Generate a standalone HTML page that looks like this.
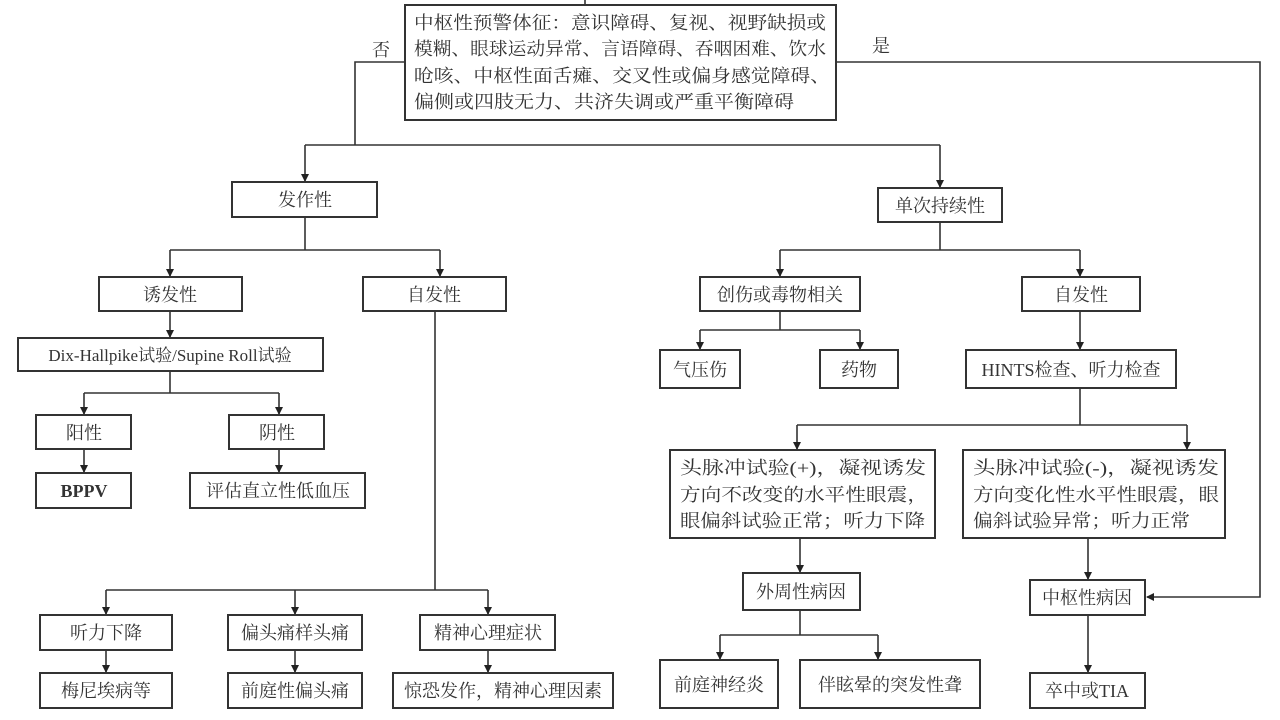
<!DOCTYPE html>
<html><head><meta charset="utf-8"><style>
html,body{margin:0;padding:0;background:#fff;}
svg{display:block;}
text{font-family:"Liberation Serif","Noto Serif CJK SC",serif;font-size:18px;fill:#333;}
rect{fill:#fff;stroke:#333;stroke-width:2;}
line,polyline{stroke:#333;stroke-width:1.6;fill:none;}
</style></head><body>
<svg width="1280" height="720" viewBox="0 0 1280 720">
<defs><marker id="a" markerWidth="8" markerHeight="8" refX="7" refY="4" orient="auto" markerUnits="userSpaceOnUse"><path d="M0,0 L8,4 L0,8z" fill="#222"/></marker></defs>
<line x1="585" y1="0" x2="585" y2="5"/>
<polyline points="405,62 355,62 355,145"/>
<polyline points="836,62 1260,62 1260,597 1147,597" marker-end="url(#a)"/>
<line x1="305" y1="145" x2="940" y2="145"/>
<line x1="305" y1="145" x2="305" y2="181" marker-end="url(#a)"/>
<line x1="940" y1="145" x2="940" y2="187" marker-end="url(#a)"/>
<line x1="305" y1="217" x2="305" y2="250"/>
<line x1="170" y1="250" x2="440" y2="250"/>
<line x1="170" y1="250" x2="170" y2="276" marker-end="url(#a)"/>
<line x1="440" y1="250" x2="440" y2="276" marker-end="url(#a)"/>
<line x1="170" y1="311" x2="170" y2="337" marker-end="url(#a)"/>
<line x1="170" y1="371" x2="170" y2="393"/>
<line x1="84" y1="393" x2="279" y2="393"/>
<line x1="84" y1="393" x2="84" y2="414" marker-end="url(#a)"/>
<line x1="279" y1="393" x2="279" y2="414" marker-end="url(#a)"/>
<line x1="84" y1="449" x2="84" y2="472" marker-end="url(#a)"/>
<line x1="279" y1="449" x2="279" y2="472" marker-end="url(#a)"/>
<line x1="435" y1="311" x2="435" y2="590"/>
<line x1="106" y1="590" x2="488" y2="590"/>
<line x1="106" y1="590" x2="106" y2="614" marker-end="url(#a)"/>
<line x1="295" y1="590" x2="295" y2="614" marker-end="url(#a)"/>
<line x1="488" y1="590" x2="488" y2="614" marker-end="url(#a)"/>
<line x1="106" y1="650" x2="106" y2="672" marker-end="url(#a)"/>
<line x1="295" y1="650" x2="295" y2="672" marker-end="url(#a)"/>
<line x1="488" y1="650" x2="488" y2="672" marker-end="url(#a)"/>
<line x1="940" y1="222" x2="940" y2="250"/>
<line x1="780" y1="250" x2="1080" y2="250"/>
<line x1="780" y1="250" x2="780" y2="276" marker-end="url(#a)"/>
<line x1="1080" y1="250" x2="1080" y2="276" marker-end="url(#a)"/>
<line x1="780" y1="311" x2="780" y2="330"/>
<line x1="700" y1="330" x2="860" y2="330"/>
<line x1="700" y1="330" x2="700" y2="349" marker-end="url(#a)"/>
<line x1="860" y1="330" x2="860" y2="349" marker-end="url(#a)"/>
<line x1="1080" y1="311" x2="1080" y2="349" marker-end="url(#a)"/>
<line x1="1080" y1="388" x2="1080" y2="425"/>
<line x1="797" y1="425" x2="1187" y2="425"/>
<line x1="797" y1="425" x2="797" y2="449" marker-end="url(#a)"/>
<line x1="1187" y1="425" x2="1187" y2="449" marker-end="url(#a)"/>
<line x1="800" y1="538" x2="800" y2="572" marker-end="url(#a)"/>
<line x1="1088" y1="538" x2="1088" y2="579" marker-end="url(#a)"/>
<line x1="800" y1="610" x2="800" y2="635"/>
<line x1="720" y1="635" x2="878" y2="635"/>
<line x1="720" y1="635" x2="720" y2="659" marker-end="url(#a)"/>
<line x1="878" y1="635" x2="878" y2="659" marker-end="url(#a)"/>
<line x1="1088" y1="615" x2="1088" y2="672" marker-end="url(#a)"/>
<rect x="405" y="5" width="431" height="115"/>
<text x="414" y="29" textLength="412" lengthAdjust="spacingAndGlyphs">中枢性预警体征：意识障碍、复视、视野缺损或</text>
<text x="414" y="55" textLength="412" lengthAdjust="spacingAndGlyphs">模糊、眼球运动异常、言语障碍、吞咽困难、饮水</text>
<text x="414" y="82" textLength="416" lengthAdjust="spacingAndGlyphs">呛咳、中枢性面舌瘫、交叉性或偏身感觉障碍、</text>
<text x="414" y="108" textLength="380" lengthAdjust="spacingAndGlyphs">偏侧或四肢无力、共济失调或严重平衡障碍</text>
<text x="372" y="56">否</text>
<text x="872" y="52">是</text>
<g text-anchor="middle">
<rect x="232" y="182" width="145" height="35"/><text x="305" y="206">发作性</text>
<rect x="878" y="188" width="124" height="34"/><text x="940" y="212">单次持续性</text>
<rect x="99" y="277" width="143" height="34"/><text x="170" y="301">诱发性</text>
<rect x="363" y="277" width="143" height="34"/><text x="434" y="301">自发性</text>
<rect x="18" y="338" width="305" height="33"/><text x="170" y="361" style="font-size:17px">Dix-Hallpike试验/Supine Roll试验</text>
<rect x="36" y="415" width="95" height="34"/><text x="84" y="439">阳性</text>
<rect x="229" y="415" width="95" height="34"/><text x="277" y="439">阴性</text>
<rect x="36" y="473" width="95" height="35"/><text x="84" y="497" style="font-weight:bold">BPPV</text>
<rect x="190" y="473" width="175" height="35"/><text x="278" y="497">评估直立性低血压</text>
<rect x="40" y="615" width="132" height="35"/><text x="106" y="639">听力下降</text>
<rect x="228" y="615" width="134" height="35"/><text x="295" y="639">偏头痛样头痛</text>
<rect x="420" y="615" width="135" height="35"/><text x="488" y="639">精神心理症状</text>
<rect x="40" y="673" width="132" height="35"/><text x="106" y="697">梅尼埃病等</text>
<rect x="228" y="673" width="134" height="35"/><text x="295" y="697">前庭性偏头痛</text>
<rect x="393" y="673" width="220" height="35"/><text x="503" y="697">惊恐发作，精神心理因素</text>
<rect x="700" y="277" width="160" height="34"/><text x="780" y="301">创伤或毒物相关</text>
<rect x="1022" y="277" width="118" height="34"/><text x="1081" y="301">自发性</text>
<rect x="660" y="350" width="80" height="38"/><text x="700" y="376">气压伤</text>
<rect x="820" y="350" width="78" height="38"/><text x="859" y="376">药物</text>
<rect x="966" y="350" width="210" height="38"/><text x="1071" y="376">HINTS检查、听力检查</text>
<rect x="743" y="573" width="117" height="37"/><text x="801" y="598">外周性病因</text>
<rect x="1030" y="580" width="115" height="35"/><text x="1087" y="604">中枢性病因</text>
<rect x="660" y="660" width="118" height="48"/><text x="719" y="691">前庭神经炎</text>
<rect x="800" y="660" width="180" height="48"/><text x="890" y="691">伴眩晕的突发性聋</text>
<rect x="1030" y="673" width="115" height="35"/><text x="1087" y="697">卒中或TIA</text>
</g>
<rect x="670" y="450" width="265" height="88"/>
<text x="680" y="474" textLength="246" lengthAdjust="spacingAndGlyphs">头脉冲试验(+)，凝视诱发</text>
<text x="680" y="501" textLength="248" lengthAdjust="spacingAndGlyphs">方向不改变的水平性眼震，</text>
<text x="680" y="527" textLength="245" lengthAdjust="spacingAndGlyphs">眼偏斜试验正常；听力下降</text>
<rect x="963" y="450" width="262" height="88"/>
<text x="973" y="474" textLength="246" lengthAdjust="spacingAndGlyphs">头脉冲试验(-)，凝视诱发</text>
<text x="973" y="501" textLength="246" lengthAdjust="spacingAndGlyphs">方向变化性水平性眼震，眼</text>
<text x="973" y="527" textLength="217" lengthAdjust="spacingAndGlyphs">偏斜试验异常；听力正常</text>
</svg>
</body></html>
